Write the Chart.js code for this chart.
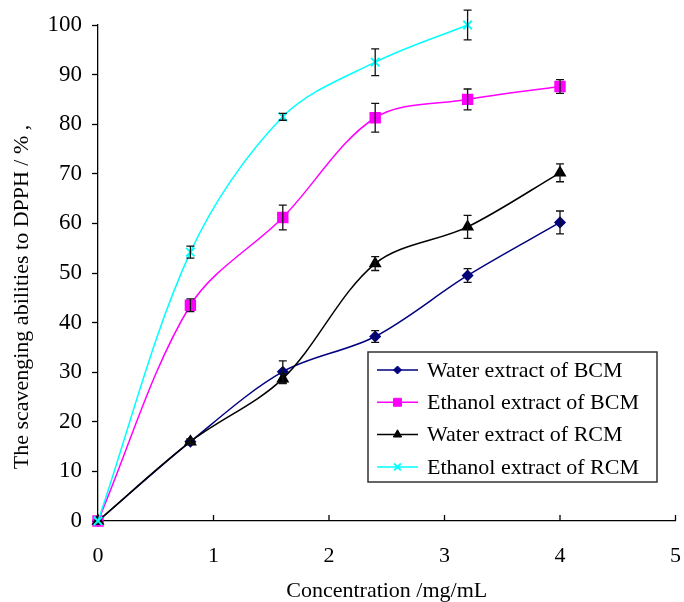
<!DOCTYPE html>
<html>
<head>
<meta charset="utf-8">
<script src="https://cdn.jsdelivr.net/npm/chart.js@4/dist/chart.umd.min.js"></script>
<style>
html,body{margin:0;padding:0;background:#fff;}
canvas{display:block;}
</style>
</head>
<body>
<canvas id="c" width="684" height="602"></canvas>
<script>
// ---- data ----
const concentrations = [0, 0.8, 1.6, 2.4, 3.2, 4];
const seriesNames = ["Water extract of BCM", "Ethanol extract of BCM", "Water extract of RCM", "Ethanol extract of RCM"];
const waterBCM   = [0, 16.0, 30.1, 37.2, 49.5, 60.2];
const waterBCMErr = [0, 0.5, 2.2, 1.2, 1.4, 2.3];
const ethanolBCM = [0, 43.5, 61.2, 81.3, 85.0, 87.6];
const ethanolBCMErr = [0, 1.3, 2.5, 2.9, 2.1, 1.4];
const waterRCM   = [0, 16.0, 28.7, 51.9, 59.3, 70.2];
const waterRCMErr = [0, 0.5, 1.0, 1.4, 2.3, 1.8];
const ethanolRCM = [0, 54.2, 81.5, 92.5, 100.0];
const ethanolRCMErr = [0, 1.2, 0.7, 2.7, 3.0];
const xTicks = [0, 1, 2, 3, 4, 5];
const yTicks = [0, 10, 20, 30, 40, 50, 60, 70, 80, 90, 100];
const xTitle = "Concentration /mg/mL";
const yTitle = "The scavenging abilities to DPPH / % ,";

const FONT = "'Liberation Serif', 'Times New Roman', serif";

function pts(vals){ return vals.map((v,i)=>({x:concentrations[i], y:v})); }

const datasets = [
  {label: seriesNames[0], data: pts(waterBCM), err: waterBCMErr, borderColor:'#000080', backgroundColor:'#000080', pointStyle:'rectRot', pointRadius:5, order:3},
  {label: seriesNames[1], data: pts(ethanolBCM), err: ethanolBCMErr, borderColor:'#ff00ff', backgroundColor:'#ff00ff', pointStyle:'rect', pointRadius:7, order:2},
  {label: seriesNames[2], data: pts(waterRCM), err: waterRCMErr, borderColor:'#000000', backgroundColor:'#000000', pointStyle:'triangle', pointRadius:6, order:1},
  {label: seriesNames[3], data: pts(ethanolRCM), err: ethanolRCMErr, borderColor:'#00ffff', backgroundColor:'#00ffff', pointStyle:'crossRot', pointRadius:6, pointBorderWidth:1.8, order:0}
].map(d => Object.assign({borderWidth:1.5, tension:0.33, fill:false, clip:false, pointHoverRadius:d.pointRadius}, d));

const errorBars = {
  id:'errorBars',
  afterDatasetsDraw(chart){
    const ctx = chart.ctx, ys = chart.scales.y, xs = chart.scales.x;
    ctx.save();
    ctx.strokeStyle = '#111';
    ctx.lineWidth = 1.3;
    chart.data.datasets.forEach(ds=>{
      ds.data.forEach((p,i)=>{
        const e = ds.err[i];
        if(!e) return;
        const px = xs.getPixelForValue(p.x);
        const t = ys.getPixelForValue(p.y+e), b = ys.getPixelForValue(p.y-e);
        ctx.beginPath();
        ctx.moveTo(px,t); ctx.lineTo(px,b);
        ctx.moveTo(px-4,t); ctx.lineTo(px+4,t);
        ctx.moveTo(px-4,b); ctx.lineTo(px+4,b);
        ctx.stroke();
      });
    });
    ctx.restore();
  }
};

const extras = {
  id:'extras',
  afterDraw(chart){
    const ctx = chart.ctx, xs = chart.scales.x, ca = chart.chartArea;
    ctx.save();
    // inward x ticks
    ctx.strokeStyle = '#000'; ctx.lineWidth = 1.3;
    xTicks.forEach(v=>{
      if(v===0) return;
      const px = xs.getPixelForValue(v);
      ctx.beginPath(); ctx.moveTo(px, ca.bottom); ctx.lineTo(px, ca.bottom-6); ctx.stroke();
    });
    // y title
    ctx.fillStyle = '#000';
    ctx.font = "22px " + FONT;
    ctx.textAlign = 'center'; ctx.textBaseline = 'middle';
    ctx.translate(22, 297);
    ctx.rotate(-Math.PI/2);
    ctx.fillText(yTitle, 0, 0);
    ctx.restore();

    // legend box
    ctx.save();
    const L = 368, T = 352, R = 657, B = 482;
    ctx.fillStyle = '#fff';
    ctx.fillRect(L, T, R-L, B-T);
    ctx.strokeStyle = '#333'; ctx.lineWidth = 1.5;
    ctx.strokeRect(L, T, R-L, B-T);
    ctx.font = "22px " + FONT;
    ctx.textAlign = 'left'; ctx.textBaseline = 'middle';
    chart.data.datasets.forEach((ds,i)=>{
      const y = 370 + i*32.3;
      ctx.strokeStyle = ds.borderColor; ctx.lineWidth = 1.5;
      ctx.beginPath(); ctx.moveTo(377,y); ctx.lineTo(418,y); ctx.stroke();
      ctx.fillStyle = ds.backgroundColor; ctx.strokeStyle = ds.borderColor;
      ctx.lineWidth = ds.pointBorderWidth || 1;
      Chart.helpers.drawPoint(ctx, {pointStyle: ds.pointStyle, radius: ds.pointRadius*0.8, borderWidth: ds.pointBorderWidth||1, rotation:0}, 397.5, y);
      ctx.fillStyle = '#000';
      ctx.fillText(ds.label, 427, y+1);
    });
    ctx.restore();
  }
};

new Chart(document.getElementById('c'), {
  type:'line',
  data:{ datasets },
  options:{
    responsive:false,
    animation:false,
    events:[],
    layout:{ padding:{ left:0, right:0, top:25, bottom:0 } },
    plugins:{ legend:{display:false}, tooltip:{enabled:false} },
    scales:{
      x:{
        type:'linear', min:0, max:5,
        afterFit(s){ s.height = 81; s.paddingLeft = 0; s.paddingRight = -5; },
        afterBuildTicks(s){ s.ticks = xTicks.map(v=>({value:v})); },
        grid:{ drawOnChartArea:false, drawTicks:false },
        border:{ color:'#000', width:1.3 },
        ticks:{ color:'#000', padding:22, font:{family:FONT, size:22}, maxRotation:0 },
        title:{ display:true, text:xTitle, color:'#000', font:{family:FONT, size:22, lineHeight:1}, padding:{top:0,bottom:0} }
      },
      y:{
        type:'linear', min:0, max:100,
        afterFit(s){ s.width = 98; },
        afterBuildTicks(s){ s.ticks = yTicks.map(v=>({value:v})); },
        grid:{ drawOnChartArea:false, drawTicks:true, tickLength:6, color:'#000', tickWidth:1.3 },
        border:{ color:'#000', width:1.3 },
        ticks:{ color:'#000', padding:10, font:{family:FONT, size:23} }
      }
    }
  },
  plugins:[errorBars, extras]
});
</script>
</body>
</html>
